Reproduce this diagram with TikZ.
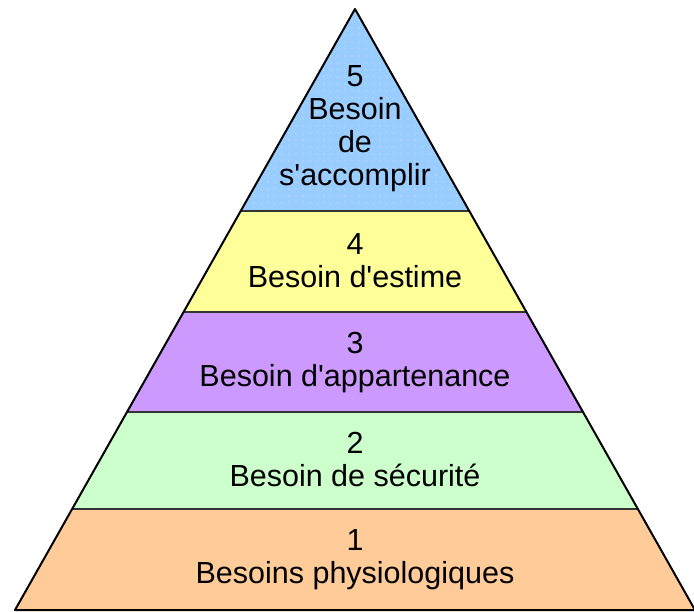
\documentclass[tikz,border=0pt]{standalone}
\usepackage{fontspec}
\setmainfont{Liberation Sans}[Ligatures=TeXOff]
\definecolor{level1}{HTML}{FFCC99}
\definecolor{level2}{HTML}{CCFFCC}
\definecolor{level3}{HTML}{CC99FF}
\definecolor{level4}{HTML}{FFFF99}
\definecolor{level5}{HTML}{99CCFF}
\definecolor{dotblue}{HTML}{B8DCFF}
\begin{document}
\begin{tikzpicture}[x=1pt,y=-1pt]
%------------------------------------------------------------------------------------------------
% Pyramid Definition

    \tikzset{levellabel/.style={align=center, inner sep=0pt, text=black,
            font=\fontsize{30.5}{33}\selectfont},
        pyramidedge/.style={draw=black, line width=2pt, line join=round},
        levelline/.style={draw=black!80, line width=2pt}
    }
    \useasboundingbox (0,0) rectangle (694,612);
    \coordinate (apex) at (355,9);
    \coordinate (baseL) at (15,610);
    \coordinate (baseR) at (695,610);
    \begin{scope}
        \clip (apex) -- (baseR) -- (baseL) -- cycle;
        % bands
        \foreach \ytop/\ybot/\col in {9/211/level5, 211/312/level4, 312/412/level3,
                412/509/level2, 509/612/level1} {
            \fill[\col] (0,\ytop) rectangle (694,\ybot);
        }
        % dots on the top band
        \foreach \y in {14,21,...,207} {
            \foreach \x in {240,247,...,470} {
                \fill[dotblue] (\x,\y) circle (0.9pt);
            }
        }
        % separators
        \foreach \y in {211,312,412,509} {
            \draw[levelline] (0,\y) -- (694,\y);
        }
    \end{scope}
    \draw[pyramidedge] (apex) -- (baseR) -- (baseL) -- cycle;
%------------------------------------------------------------------------------------------------
% labels
    \foreach \n/\y/\txt in {1/560/Besoins physiologiques, 2/460/Besoin de sécurité,
            3/363/Besoin d'appartenance, 4/261/Besoin d'estime} {
        \node[levellabel] (besoin\n) at (355,\y) {\n\\\txt};
    }
    \node[levellabel] (besoin5) at (355,129) {5\\Besoin\\de\\s'accomplir};
\end{tikzpicture}
\end{document}
